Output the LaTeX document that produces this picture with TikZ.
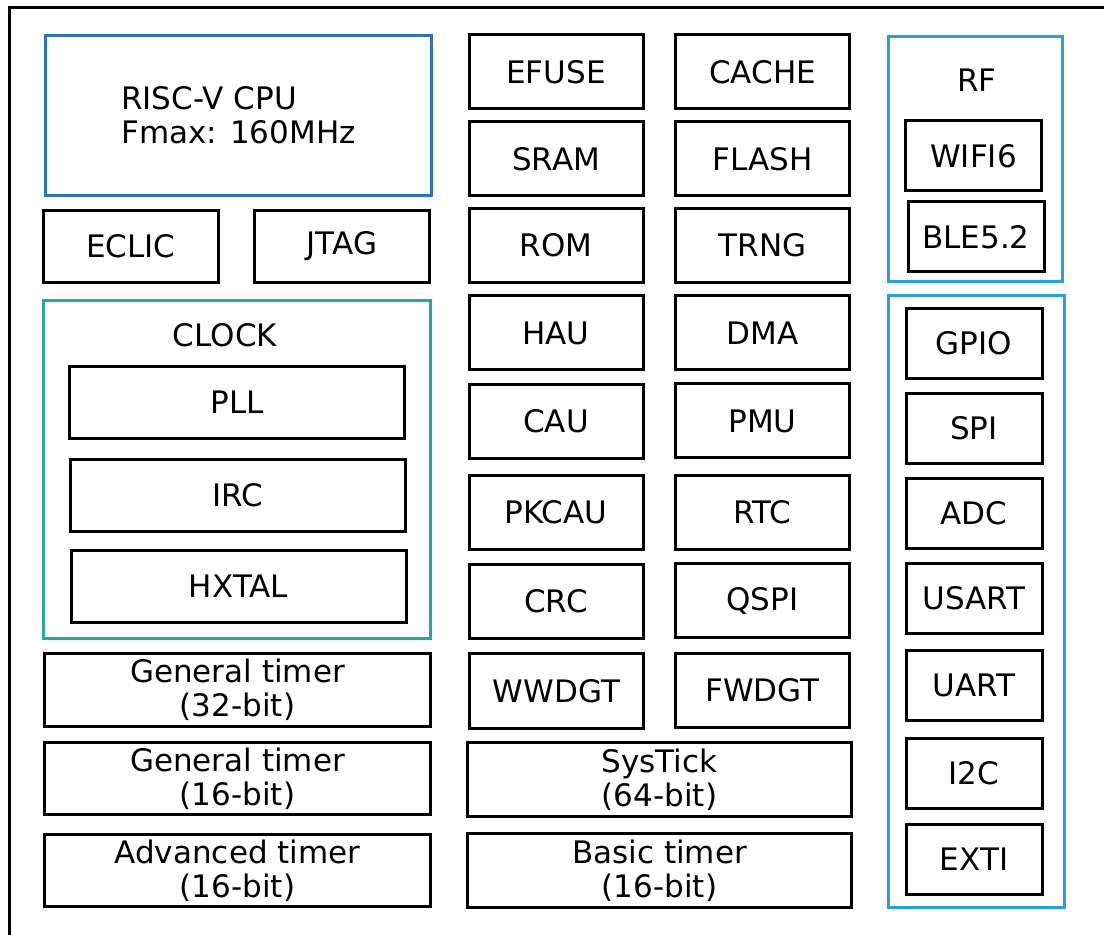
\documentclass[tikz,border=0pt]{standalone}
\usepackage{fontspec}
\setmainfont{DejaVu Sans}
\usetikzlibrary{positioning}
\definecolor{cpublue}{RGB}{46,117,182}
\definecolor{rfblue}{RGB}{41,160,218}
\definecolor{clkteal}{RGB}{42,165,160}

\begin{document}
\begin{tikzpicture}[
  x=0.5pt, y=-0.5pt,
  blk/.style={draw, line width=1.5pt, inner sep=0pt, align=center, font=\fontsize{15.5}{17}\selectfont},
  memblk/.style={blk, minimum width=87pt, minimum height=37pt},
  wideblk/.style={blk, minimum width=193pt, minimum height=36pt},
  clkblk/.style={blk, minimum width=167.5pt, minimum height=36pt},
  ioblk/.style={blk, minimum width=68pt, minimum height=35pt},
  lbl/.style={font=\fontsize{15.5}{17}\selectfont}
]
  \useasboundingbox (0,0) rectangle (1104,935);

  % Chip outline (cut off at right and bottom)
  \draw[line width=1.5pt] (9,935) -- (9,8) -- (1104,8);

  % Core
  \node[blk, draw=cpublue, minimum width=193pt, minimum height=80pt, align=left] (cpu) at (238.5,115.5) {RISC-V CPU\\Fmax: 160MHz};
  \node[blk, minimum width=87.5pt, minimum height=36pt] (eclic) at (131,246.5) {ECLIC};
  \node[blk, minimum width=87.5pt, minimum height=36pt] (jtag) at (342,246.5) {JTAG};

  % Clock tree
  \node[blk, draw=clkteal, minimum width=193.5pt, minimum height=169pt] (clock) at (237,469.5) {};
  \node[lbl] (clocklbl) at (225,335) {CLOCK};
  \node[clkblk] (pll) at (237,402.5) {PLL};
  \node[clkblk] (irc) at (237.5,495.5) {IRC};
  \node[clkblk] (hxtal) at (238.5,586.5) {HXTAL};

  % Timers
  \node[wideblk] (gtimera) at (237.5,690) {General timer\\(32-bit)};
  \node[wideblk] (gtimerb) at (237.5,778.5) {General timer\\(16-bit)};
  \node[wideblk] (advtimer) at (237.5,870.5) {Advanced timer\\(16-bit)};

  % Memory and system blocks
  \node[memblk] (efuse) at (556,72) {EFUSE};
  \node[memblk] (cache) at (762.5,72) {CACHE};
  \node[memblk] (sram) at (556,159) {SRAM};
  \node[memblk] (flash) at (762.5,159) {FLASH};
  \node[memblk] (rom) at (556,245.5) {ROM};
  \node[memblk] (trng) at (762.5,245.5) {TRNG};
  \node[memblk] (hau) at (556,333) {HAU};
  \node[memblk] (dma) at (762.5,333) {DMA};
  \node[memblk] (cau) at (556,421.5) {CAU};
  \node[memblk] (pmu) at (762.5,421) {PMU};
  \node[memblk] (pkcau) at (556,512.5) {PKCAU};
  \node[memblk] (rtc) at (762.5,512.5) {RTC};
  \node[memblk] (crc) at (556,601.5) {CRC};
  \node[memblk] (qspi) at (762.5,600.5) {QSPI};
  \node[memblk] (wwdgt) at (556.5,691) {WWDGT};
  \node[memblk] (fwdgt) at (762.5,690.5) {FWDGT};
  \node[wideblk, minimum width=192pt, minimum height=37pt] (systick) at (659.5,779.5) {SysTick\\(64-bit)};
  \node[wideblk, minimum width=192pt, minimum height=37pt] (basictimer) at (659.5,870.5) {Basic timer\\(16-bit)};

  % Radio
  \node[blk, draw=rfblue, minimum width=87pt, minimum height=122.5pt] (rf) at (975.5,159) {};
  \node[lbl] (rflbl) at (977,80) {RF};
  \node[ioblk] (wifi) at (973.5,156) {WIFI6};
  \node[ioblk] (ble) at (976,237) {BLE5.2};

  % Peripherals
  \node[blk, draw=rfblue, minimum width=88pt, minimum height=306pt] (periph) at (976.5,601.5) {};
  \node[ioblk] (gpio) at (974,343.5) {GPIO};
  \node[ioblk] (spi) at (974,428.5) {SPI};
  \node[ioblk] (adc) at (974,513.5) {ADC};
  \node[ioblk] (usart) at (974,598.5) {USART};
  \node[ioblk] (uart) at (974,685.5) {UART};
  \node[ioblk] (itwoc) at (974,773.5) {I2C};
  \node[ioblk] (exti) at (974,859) {EXTI};
\end{tikzpicture}
\end{document}
